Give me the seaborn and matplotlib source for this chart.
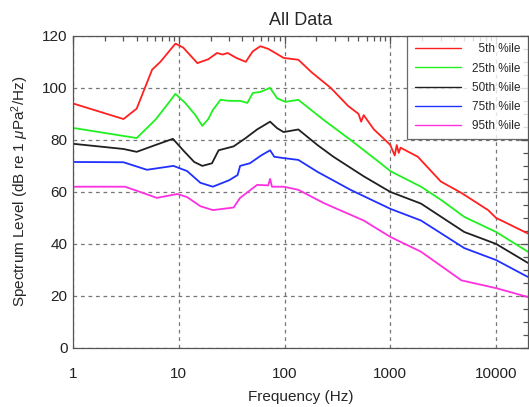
import pandas as pd
import seaborn as sns
import matplotlib.pyplot as plt
from matplotlib.ticker import FixedLocator, NullFormatter, MultipleLocator

# values
labels = ['  5th %ile', '25th %ile', '50th %ile', '75th %ile', '95th %ile']
colors = ['#ff2020', '#20f020', '#202020', '#2030ff', '#ff30e0']

freq_05 = [1, 3, 4, 5.6, 6.7, 9.3, 11, 15, 19, 23, 26, 29, 35, 43, 50, 59, 70, 85, 98, 135,
           180, 273, 400, 500, 530, 560, 700, 946, 1000, 1100, 1150, 1200, 1250, 1820, 3000,
           4700, 8400, 10000, 20000]
level_05 = [94, 88, 92, 107, 110, 117, 115.5, 109.5, 111, 113.4, 112.8, 113.4, 111.5, 110,
            114, 116, 115, 113, 111.5, 110.8, 106, 100, 93, 90, 87, 89.5, 84, 79, 78, 74, 78,
            75, 77, 73.5, 64, 59.6, 53, 50, 44]

freq_25 = [1, 4, 6, 7.5, 9.3, 11.5, 14.3, 16.7, 19, 21, 24.8, 30, 38, 44.5, 50, 60, 73, 85,
           102, 135, 234, 420, 810, 1000, 1950, 3000, 5000, 10000, 20000]
level_25 = [84.6, 80.7, 87.7, 92.7, 97.7, 94.2, 89.6, 85.4, 88, 91.5, 95.4, 95, 95, 94.2, 98,
            98.5, 100, 96, 94.6, 95.4, 87.7, 80, 71, 68, 62, 57, 50.4, 44.6, 37]

freq_50 = [1, 3, 4, 6, 8.8, 11, 14, 16.7, 20.6, 23.8, 33, 42.6, 55, 73, 85, 98, 135, 205, 290,
           560, 1000, 1950, 5000, 10000, 20000]
level_50 = [78.5, 76.5, 75.4, 78, 80.4, 76, 71.5, 70, 71, 76, 77.5, 80.6, 84, 87, 84.5, 83, 84,
            78, 73.5, 66, 60, 55.5, 44.6, 40, 32.7]

freq_75 = [1, 3, 5, 8.9, 12, 16, 21, 30, 36, 38, 47, 60, 73, 80, 98, 135, 205, 420, 1000, 1950,
           5000, 10000, 20000]
level_75 = [71.5, 71.4, 68.5, 70, 68, 63.5, 62, 64.5, 66.5, 70, 71, 74, 76, 73.5, 73, 72.3, 67.7,
            60.8, 53.5, 49, 38.4, 33.8, 27.3]

freq_95 = [1, 3.1, 4.3, 6.2, 9.7, 12, 16, 21, 33, 38, 55, 70, 73, 76, 98, 135, 235, 560, 1000,
           1950, 4700, 10000, 20000]
level_95 = [62, 62, 60, 57.7, 59.2, 58, 54.5, 53, 54, 57.7, 62.7, 62.5, 65, 62, 62, 60.8, 55.7,
            49, 42.7, 37, 26, 23, 19.6]

freqs = [freq_05, freq_25, freq_50, freq_75, freq_95]
levels = [level_05, level_25, level_50, level_75, level_95]

frames = []
for lab, f, lv in zip(labels, freqs, levels):
    frames.append(pd.DataFrame({'freq': f, 'level': lv, 'pct': lab}))
df = pd.concat(frames, ignore_index=True)

sns.set_theme(style='white')
plt.rcParams['font.family'] = ['Liberation Sans', 'DejaVu Sans']
plt.rcParams['mathtext.fontset'] = 'custom'
plt.rcParams['mathtext.it'] = 'Liberation Sans:italic'
plt.rcParams['mathtext.rm'] = 'Liberation Sans'

fig = plt.figure(figsize=(5.29, 4.07), dpi=100)
ax = fig.add_axes([0.138, 0.145, 0.860, 0.767])

sns.lineplot(data=df, x='freq', y='level', hue='pct', palette=colors, sort=False,
             estimator=None, linewidth=1.3, ax=ax)

ax.set_xscale('log')
ax.set_xlim(1, 20000)
ax.set_ylim(0, 120)

ax.xaxis.set_major_locator(FixedLocator([1, 10, 100, 1000, 10000]))
ax.set_xticklabels(['1', '10', '100', '1000', '10000'])
ax.xaxis.set_minor_locator(FixedLocator([m * 10 ** d for d in range(5) for m in range(2, 10)]))
ax.xaxis.set_minor_formatter(NullFormatter())
ax.yaxis.set_major_locator(MultipleLocator(20))
ax.yaxis.set_minor_locator(MultipleLocator(5))

ax.tick_params(axis='both', which='both', direction='in', top=True, right=True,
               color='#555555', labelsize=11, labelcolor='#222222')
ax.tick_params(which='major', length=6, width=0.9)
ax.tick_params(which='minor', length=3.5, width=0.9)
ax.tick_params(axis='x', which='major', pad=14)
ax.tick_params(axis='y', which='major', pad=4)

ax.grid(True, which='major', color='#777777', linestyle=(0, (3, 3)), linewidth=0.9)
for s in ax.spines.values():
    s.set_color('#555555')
    s.set_linewidth(0.9)

ax.set_title('All Data', fontsize=13, pad=8)
ax.set_xlabel('Frequency (Hz)', fontsize=11, labelpad=6)
ax.set_ylabel(r'Spectrum Level (dB re 1 $\mu$Pa$^2$/Hz)', fontsize=11, labelpad=8)

leg = ax.legend(loc='upper right', borderaxespad=0, fontsize=8.5, frameon=True, fancybox=False,
                edgecolor='#444444', handlelength=3.9, labelspacing=0.6, borderpad=0.65,
                handletextpad=0.95)
leg.get_frame().set_linewidth(0.9)
for ln in leg.get_lines():
    ln.set_linewidth(1.0)

fig.savefig('out.png', dpi=100)
